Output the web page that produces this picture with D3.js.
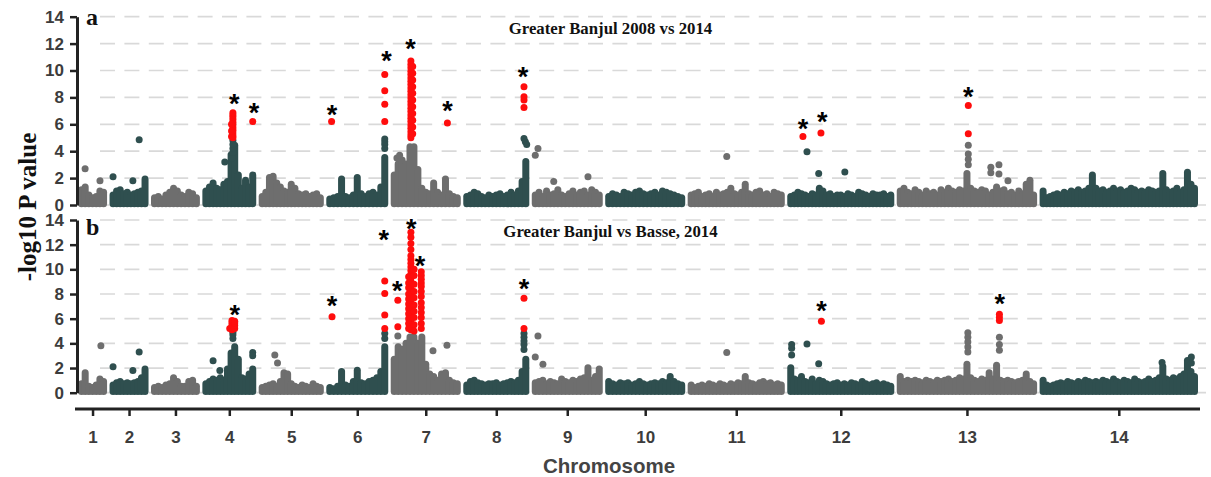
<!DOCTYPE html>
<html><head><meta charset="utf-8">
<script src="https://cdn.jsdelivr.net/npm/d3@7"></script>
<style>body{margin:0;background:#fff} svg{display:block}</style>
</head><body><svg id="c" width="1211" height="477"></svg>
<script>
// ---------------- data ----------------
const chromosomes = [1,2,3,4,5,6,7,8,9,10,11,12,13,14];
const chrLengthMb = [0.49,0.71,0.93,1.04,1.29,1.22,1.40,1.31,1.42,1.62,2.00,2.22,2.96,3.36];
const chrGapMb = 0.21;
const yTicks = [0,2,4,6,8,10,12,14];
const titleA = "Greater Banjul 2008 vs 2014";
const titleB = "Greater Banjul vs Basse, 2014";
const sigThreshold = 5;

// dense background of SNPs: upper edge of the point cloud, evenly sampled along each chromosome
const bandA = [
 [1.4,1.6,1.0,0.8,0.9,1.3,1.2],
 [1.0,1.3,1.4,1.1,1.2,1.0,1.1,1.2,1.3,2.2],
 [0.8,0.9,0.7,1.0,1.2,1.5,1.3,1.0,0.9,1.2,1.1,0.8],
 [1.3,1.6,1.9,1.5,1.4,1.8,2.0,4.0,4.7,2.5,1.5,2.1,1.6,2.5],
 [0.9,1.2,2.3,2.4,1.9,1.6,1.3,1.2,1.8,1.5,1.1,1.0,1.1,0.9,1.0,1.1,0.8],
 [0.7,0.8,0.9,2.2,0.9,0.8,1.0,2.3,1.1,0.9,1.1,1.2,1.0,1.6,3.8],
 [2.5,3.3,3.6,3.3,4.6,4.6,2.9,1.5,1.2,1.1,1.9,1.2,1.0,2.2,1.1,0.9,0.8],
 [0.9,1.0,1.2,1.1,0.9,0.8,1.0,0.9,1.0,1.1,0.9,1.0,1.2,1.0,1.3,2.0,3.5],
 [1.0,1.2,0.9,1.3,1.0,1.1,1.4,1.0,0.9,1.1,1.3,1.0,1.2,1.3,1.0,1.4,1.2,1.0],
 [0.9,1.1,1.0,0.9,1.2,1.1,1.0,1.2,1.3,1.1,1.0,1.1,1.2,1.0,1.3,1.2,1.1,1.0,0.9,0.8],
 [1.0,1.1,1.2,0.9,1.0,1.1,0.9,1.2,1.0,1.1,1.2,1.5,1.1,1.0,1.2,1.8,1.1,1.0,1.2,1.3,1.0,1.1,0.9,1.2,1.1,1.0],
 [0.9,1.0,1.2,1.1,1.0,0.9,1.1,1.0,1.5,1.3,1.0,1.1,0.9,1.0,1.0,0.9,1.1,1.0,0.9,1.2,1.1,1.0,0.9,1.1,1.0,1.0,1.1,0.9,1.0],
 [1.3,1.5,1.2,1.1,1.4,1.2,1.0,1.3,1.1,1.2,1.0,1.4,1.2,1.5,1.3,1.2,1.4,1.3,2.6,1.5,1.3,1.2,1.4,1.3,1.0,1.2,1.6,1.3,1.4,1.1,1.2,1.0,1.3,1.1,1.8,2.1,1.0],
 [1.3,0.8,0.9,1.0,1.1,1.0,1.2,1.1,1.3,1.2,1.4,1.2,1.3,1.5,2.5,1.5,1.3,1.4,1.2,1.3,1.5,1.3,1.4,1.2,1.3,1.5,1.4,1.2,1.3,1.2,1.4,1.3,1.2,1.3,2.6,1.4,1.2,1.3,1.5,1.2,1.4,2.7,1.8,1.5]
];
const bandB = [
 [1.0,1.9,0.8,0.7,0.9,1.4,1.2],
 [0.9,1.1,1.2,1.0,1.1,1.0,1.1,1.2,1.5,2.2],
 [0.7,0.8,0.7,0.9,1.0,1.5,1.2,0.8,0.8,1.2,1.3,0.8],
 [1.0,1.2,1.4,1.3,1.5,1.3,2.2,3.5,4.0,3.0,1.5,1.4,1.8,2.2],
 [0.7,0.8,0.9,1.0,0.8,1.2,1.9,1.8,1.0,0.8,0.7,0.9,0.8,0.7,1.0,0.8,0.7],
 [0.7,0.6,0.8,2.0,0.9,0.8,1.2,2.1,1.1,1.0,1.2,1.3,1.5,2.0,4.0],
 [3.0,4.0,3.8,4.3,4.8,4.8,4.3,4.8,2.6,1.8,1.6,1.3,1.8,1.9,1.3,1.1,1.0],
 [0.9,1.2,1.3,1.1,1.0,0.9,1.0,1.0,1.1,0.9,1.0,1.1,1.2,1.1,1.3,2.0,3.0],
 [1.1,1.2,1.3,1.0,1.2,1.1,1.0,1.4,1.2,1.1,1.3,1.2,1.4,1.5,2.3,1.3,1.6,2.2],
 [1.2,1.0,0.9,1.1,1.0,1.1,0.9,1.0,1.2,1.0,0.9,1.0,1.1,1.0,1.2,1.1,1.6,1.2,1.0,0.9],
 [0.9,0.7,0.8,0.9,0.8,1.0,0.9,0.8,1.0,0.9,0.8,1.0,0.9,1.1,1.0,1.6,1.1,1.0,0.9,1.1,1.2,1.0,1.1,0.9,1.0,0.9],
 [2.3,1.4,1.3,1.6,1.2,1.1,1.4,1.0,1.3,1.2,1.0,0.9,1.0,1.1,0.9,1.0,0.9,1.1,1.0,0.9,1.2,1.0,0.9,1.0,1.1,0.9,1.0,0.9,0.8],
 [1.6,1.2,1.3,1.2,1.3,1.2,1.1,1.3,1.2,1.1,1.3,1.2,1.3,1.4,1.2,1.3,1.5,1.4,2.6,1.5,1.3,1.2,1.4,1.3,1.9,1.4,2.5,1.3,1.2,1.3,1.2,1.1,1.2,1.3,1.8,1.2,1.0],
 [1.3,0.9,0.8,0.9,1.0,1.1,1.0,1.2,1.1,1.0,1.2,1.1,1.3,1.2,1.1,1.2,1.1,1.3,1.2,1.1,1.4,1.2,1.1,1.3,1.2,1.1,1.4,1.2,1.1,1.2,1.4,1.2,1.3,1.5,2.4,1.4,1.3,1.5,1.4,1.6,1.8,2.9,2.0,1.6]
];

// individual SNPs standing out of the cloud: [chromosome, position within chromosome (Mb), -log10 P]
const peaksA = [
 [1,0.08,2.7],[1,0.41,1.8],
 [2,0.00,2.1],[2,0.44,1.8],[2,0.58,4.85],
 [4,0.42,3.2],[4,0.58,3.5],[4,0.60,3.9],[4,0.60,4.2],[4,0.60,4.5],[4,0.60,4.8],
 [4,0.60,5.0],[4,0.60,5.15],[4,0.60,5.35],[4,0.60,5.55],[4,0.60,5.75],[4,0.60,5.95],[4,0.60,6.15],[4,0.60,6.35],[4,0.60,6.55],[4,0.60,6.7],[4,0.60,6.85],
 [4,0.57,5.1],[4,0.57,5.5],[4,0.57,6.0],[4,1.04,6.2],
 [6,0.04,6.2],[6,1.22,4.2],[6,1.22,4.5],[6,1.22,4.7],[6,1.22,4.9],[6,1.22,6.2],[6,1.22,7.5],[6,1.22,8.5],[6,1.22,9.7],
 [7,0.06,3.5],[7,0.12,3.7],
 [7,0.37,10.7],[7,0.37,10.45],[7,0.37,10.2],[7,0.37,9.95],[7,0.37,9.7],[7,0.37,9.45],[7,0.37,9.2],[7,0.37,8.95],[7,0.37,8.7],[7,0.37,8.45],[7,0.37,8.2],[7,0.37,7.95],
 [7,0.37,7.7],[7,0.37,7.45],[7,0.37,7.2],[7,0.37,6.95],[7,0.37,6.7],[7,0.37,6.45],[7,0.37,6.2],[7,0.37,5.95],[7,0.37,5.7],[7,0.37,5.45],[7,0.37,5.2],[7,0.37,5.0],
 [7,0.41,10.3],[7,0.41,9.8],[7,0.41,9.3],[7,0.41,8.8],[7,0.41,8.3],[7,0.41,7.8],[7,0.41,7.3],[7,0.41,6.8],[7,0.41,6.3],[7,0.41,5.8],[7,0.41,5.3],
 [7,1.18,6.1],
 [8,1.27,4.95],[8,1.30,4.7],[8,1.33,4.5],[8,1.27,7.25],[8,1.27,7.8],[8,1.27,8.05],[8,1.27,8.8],
 [9,0.00,3.7],[9,0.06,4.2],[9,0.41,1.75],[9,1.17,2.1],
 [11,0.79,3.6],
 [12,0.27,5.1],[12,0.36,3.95],[12,0.67,5.35],[12,0.62,2.35],[12,1.20,2.45],
 [13,1.51,3.0],[13,1.51,3.4],[13,1.51,3.8],[13,1.51,4.45],[13,1.51,5.3],[13,1.51,7.4],
 [13,2.01,2.8],[13,2.01,2.4],[13,2.19,3.0],[13,2.19,2.3],[13,2.39,1.8]
];
const peaksB = [
 [1,0.43,3.8],
 [2,0.00,2.1],[2,0.44,1.8],[2,0.58,3.3],
 [4,0.16,2.6],[4,0.31,1.8],[4,0.60,4.4],[4,0.60,4.7],[4,0.60,4.9],
 [4,0.53,5.2],[4,0.58,5.1],[4,0.58,5.3],[4,0.58,5.5],[4,0.58,5.7],[4,0.58,5.85],[4,0.64,5.2],[4,0.64,5.45],[4,0.64,5.65],[4,0.64,5.8],
 [4,1.04,3.25],[4,1.04,3.0],
 [5,0.28,3.05],[5,0.34,2.4],
 [6,0.05,6.15],[6,1.22,4.4],[6,1.22,4.8],[6,1.22,5.2],[6,1.22,6.3],[6,1.22,8.05],[6,1.22,9.05],
 [7,0.08,4.6],[7,0.08,5.35],[7,0.08,7.5],
 [7,0.37,13.0],[7,0.37,12.6],[7,0.37,12.1],[7,0.37,11.6],[7,0.37,11.1],[7,0.37,10.8],[7,0.37,10.5],[7,0.37,10.2],[7,0.37,9.9],[7,0.37,9.6],[7,0.37,9.3],[7,0.37,9.0],[7,0.37,8.7],
 [7,0.37,8.4],[7,0.37,8.1],[7,0.37,7.8],[7,0.37,7.5],[7,0.37,7.2],[7,0.37,6.9],[7,0.37,6.6],[7,0.37,6.3],[7,0.37,6.0],[7,0.37,5.7],[7,0.37,5.4],[7,0.37,5.1],
 [7,0.32,9.4],[7,0.32,8.9],[7,0.32,8.5],[7,0.32,8.0],[7,0.32,7.6],[7,0.32,7.2],[7,0.32,6.8],[7,0.32,6.4],[7,0.32,6.0],[7,0.32,5.6],[7,0.32,5.2],
 [7,0.44,10.0],[7,0.44,9.5],[7,0.44,8.8],[7,0.44,8.2],[7,0.44,7.7],[7,0.44,7.1],[7,0.44,6.6],[7,0.44,6.1],[7,0.44,5.5],[7,0.44,5.0],
 [7,0.60,9.8],[7,0.60,9.5],[7,0.60,9.2],[7,0.60,8.9],[7,0.60,8.6],[7,0.60,8.2],[7,0.60,7.8],[7,0.60,7.3],[7,0.60,6.9],[7,0.60,6.5],[7,0.60,6.1],[7,0.60,5.6],[7,0.60,5.2],
 [7,0.86,3.4],[7,1.17,3.85],
 [8,1.27,3.5],[8,1.27,3.9],[8,1.27,4.2],[8,1.27,4.5],[8,1.27,4.8],[8,1.27,5.2],[8,1.27,7.65],
 [9,0.00,2.9],[9,0.06,4.6],[9,0.17,2.3],
 [11,0.79,3.25],
 [12,0.02,3.05],[12,0.02,3.6],[12,0.02,3.9],[12,0.36,3.95],[12,0.62,2.35],[12,0.68,5.8],
 [13,1.50,3.3],[13,1.50,3.7],[13,1.50,4.1],[13,1.50,4.5],[13,1.50,4.85],
 [13,2.20,3.45],[13,2.20,3.9],[13,2.20,4.5],[13,2.20,5.85],[13,2.20,6.1],[13,2.20,6.35],
 [14,2.64,2.45],[14,3.29,2.9],[14,3.29,2.4]
];

// significance asterisks: [chromosome, position (Mb), height on the -log10 P scale]
const starsA = [[4,0.63,8.02],[4,1.07,7.32],[6,0.05,7.2],[6,1.26,11.17],[7,0.36,12.04],[7,1.18,7.45],[8,1.25,9.98],[12,0.27,6.13],[12,0.70,6.63],[13,1.51,8.51]];
const starsB = [[4,0.64,6.84],[6,0.05,7.51],[6,1.20,12.92],[7,0.07,8.78],[7,0.38,13.78],[7,0.57,10.75],[8,1.27,8.91],[12,0.68,7.11],[13,2.21,7.7]];

// ---------------- drawing ----------------
const svg = d3.select("#c");
const colGrey = "#6e6e6e", colTeal = "#2f4f4f", colRed = "#ff0d0d";
const chrColor = i => (i % 2 === 0 ? colGrey : colTeal);
const SANS = "'Liberation Sans', Arial, sans-serif";
const SERIF = "'Liberation Serif', 'Times New Roman', serif";
const R = 3.5;

const chrStart = [];
let acc = 0;
chrLengthMb.forEach((L, i) => { chrStart.push(acc); acc += L + (i < chrLengthMb.length - 1 ? chrGapMb : 0); });
const genomeLen = acc;
const x = d3.scaleLinear().domain([0, genomeLen]).range([81.5, 1194.5]);
const gpos = (c, p) => chrStart[c - 1] + p;

const axisX = 77;
const panels = [
  {band: bandA, peaks: peaksA, stars: starsA, title: titleA, label: "a",
   y: d3.scaleLinear().domain([0,14]).range([205, 16.7]), titleY: 33.5, labelY: 25},
  {band: bandB, peaks: peaksB, stars: starsB, title: titleB, label: "b",
   y: d3.scaleLinear().domain([0,14]).range([392.7, 220]), titleY: 236.5, labelY: 235}
];

panels.forEach(P => {
  const y = P.y;
  const g = svg.append("g");
  // dashed grid
  g.append("g").selectAll("line").data(yTicks).join("line")
    .attr("x1", 100).attr("x2", 1206)
    .attr("y1", d => y(d)).attr("y2", d => y(d))
    .attr("stroke", "#d9d9d9").attr("stroke-width", 1.7)
    .attr("stroke-dasharray", "15,9.4");

  // dense SNP cloud (value = upper edge of the cloud)
  const bandData = [];
  P.band.forEach((arr, ci) => {
    const n = arr.length, L = chrLengthMb[ci];
    arr.forEach((v, k) => bandData.push({c: ci, p: n > 1 ? k / (n - 1) * L : L / 2, v}));
  });
  g.append("g").selectAll("line").data(bandData).join("line")
    .attr("x1", d => x(chrStart[d.c] + d.p)).attr("x2", d => x(chrStart[d.c] + d.p))
    .attr("y1", y(0) + 2.3 - R).attr("y2", d => Math.min(y(d.v) + R, y(0) + 2.3 - R))
    .attr("stroke", d => chrColor(d.c)).attr("stroke-width", 2 * R).attr("stroke-linecap", "round");

  // individual SNPs
  const pts = P.peaks.map(([c, p, v]) => ({c, p, v, sig: v >= sigThreshold}));
  g.append("g").selectAll("circle").data(pts.filter(d => !d.sig)).join("circle")
    .attr("cx", d => x(gpos(d.c, d.p))).attr("cy", d => y(d.v)).attr("r", R)
    .attr("fill", d => chrColor(d.c - 1));
  g.append("g").selectAll("circle").data(pts.filter(d => d.sig)).join("circle")
    .attr("cx", d => x(gpos(d.c, d.p))).attr("cy", d => y(d.v)).attr("r", R)
    .attr("fill", colRed);

  // asterisks
  const fs = 27;
  g.append("g").selectAll("text").data(P.stars).join("text")
    .attr("x", d => x(gpos(d[0], d[1]))).attr("y", d => y(d[2]) + 0.57 * fs)
    .attr("text-anchor", "middle")
    .style("font-family", SANS).style("font-weight", "bold")
    .style("font-size", fs + "px").attr("fill", "#000").text("*");

  // y axis
  const ax = svg.append("g").attr("transform", `translate(${axisX},0)`)
    .call(d3.axisLeft(y).tickValues(yTicks).tickSize(7).tickSizeOuter(0).tickPadding(6));
  ax.select(".domain").attr("stroke", "#222").attr("stroke-width", 3);
  ax.selectAll(".tick line").attr("stroke", "#222").attr("stroke-width", 2.5);
  ax.selectAll(".tick text").style("font-family", SANS)
    .style("font-weight", "bold").style("font-size", "17px").attr("fill", "#3c3c3c");

  // title and panel letter
  svg.append("text").attr("x", 610.5).attr("y", P.titleY).attr("text-anchor", "middle")
    .style("font-family", SERIF).style("font-weight", "bold")
    .style("font-size", "16.8px").attr("fill", "#111").text(P.title);
  svg.append("text").attr("x", 86).attr("y", P.labelY)
    .style("font-family", SERIF).style("font-weight", "bold")
    .style("font-size", "24px").attr("fill", "#111").text(P.label);
});

// x axis
const centers = chromosomes.map((c, i) => chrStart[i] + chrLengthMb[i] / 2);
const xa = svg.append("g").attr("transform", "translate(0,409)")
  .call(d3.axisBottom(x).tickValues(centers).tickFormat((d, i) => chromosomes[i]).tickSize(7).tickSizeOuter(0).tickPadding(15));
xa.select(".domain").remove();
xa.insert("line", ":first-child").attr("x1", 75).attr("x2", 1200).attr("y1", 0).attr("y2", 0)
  .attr("stroke", "#222").attr("stroke-width", 3);
xa.selectAll(".tick line").attr("stroke", "#222").attr("stroke-width", 2.5);
xa.selectAll(".tick text").style("font-family", SANS)
  .style("font-weight", "bold").style("font-size", "17px").attr("fill", "#3c3c3c");

svg.append("text").attr("x", 609).attr("y", 473).attr("text-anchor", "middle")
  .style("font-family", SANS).style("font-weight", "bold")
  .style("font-size", "20.5px").attr("fill", "#444").text("Chromosome");

svg.append("text").attr("transform", "translate(36,207) rotate(-90)").attr("text-anchor", "middle")
  .style("font-family", SERIF).style("font-weight", "bold")
  .style("font-size", "25px").attr("fill", "#111").text("-log10 P value");
</script>
</body></html>
